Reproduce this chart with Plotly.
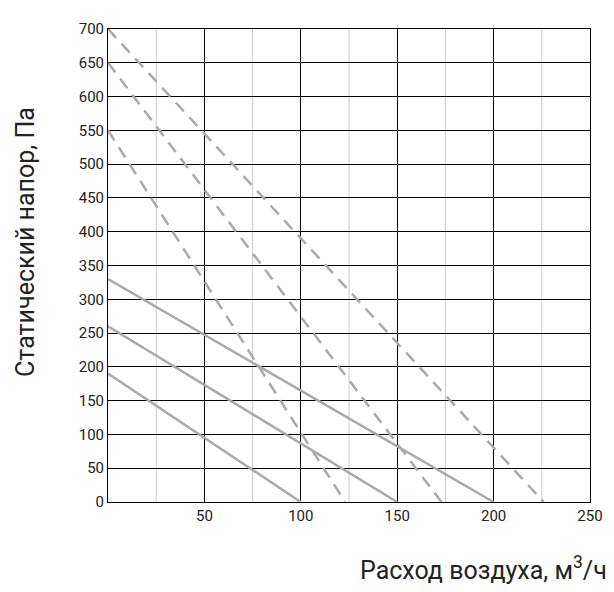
import plotly.graph_objects as go

# fan curves: (flow at zero pressure, pressure at zero flow)
solid_x = [[0, 100], [0, 150], [0, 200]]
solid_y = [[190, 0], [260, 0], [330, 0]]
dash_x = [[0, 123], [0, 173], [0, 226]]
dash_y = [[550, 0], [650, 0], [700, 0]]

x_ticks = [50, 100, 150, 200, 250]
y_ticks = [0, 50, 100, 150, 200, 250, 300, 350, 400, 450, 500, 550, 600, 650, 700]
minor_x = [25, 75, 125, 175, 225]

line_color = "#aaaaaa"
fig = go.Figure()

for xs, ys in zip(solid_x, solid_y):
    fig.add_trace(go.Scatter(x=xs, y=ys, mode="lines",
                             line=dict(color=line_color, width=2.5)))
for xs, ys in zip(dash_x, dash_y):
    fig.add_trace(go.Scatter(x=xs, y=ys, mode="lines",
                             line=dict(color=line_color, width=2.5, dash="12px,8px")))

for v in minor_x:
    fig.add_shape(type="line", x0=v, x1=v, y0=0, y1=700, layer="below",
                  line=dict(color="#cccccc", width=1))

fig.update_layout(
    width=614, height=592,
    margin=dict(l=100, r=32, t=18, b=98),
    plot_bgcolor="white", paper_bgcolor="white",
    showlegend=False,
    font=dict(family="Liberation Sans Narrow, Roboto, sans-serif", color="#222", size=15),
    xaxis=dict(range=[0, 250], tickvals=x_ticks, showgrid=True, gridcolor="black",
               gridwidth=1, showline=True, linecolor="black", mirror=True,
               zeroline=False, ticks=""),
    yaxis=dict(range=[0, 700], tickvals=y_ticks, showgrid=True, gridcolor="black",
               gridwidth=1, showline=True, linecolor="black", mirror=True,
               zeroline=False, ticks=""),
)

fig.add_annotation(text="Статический напор, Па", xref="paper", yref="paper",
                   x=-0.17, y=0.55, textangle=-90, showarrow=False,
                   font=dict(size=25), xanchor="center", yanchor="middle")
fig.add_annotation(text="Расход воздуха, м<sup>3</sup>/ч", xref="paper", yref="paper",
                   x=1.04, y=-0.14, showarrow=False, xanchor="right", yanchor="middle",
                   font=dict(size=25))

fig.write_html("out.html")
